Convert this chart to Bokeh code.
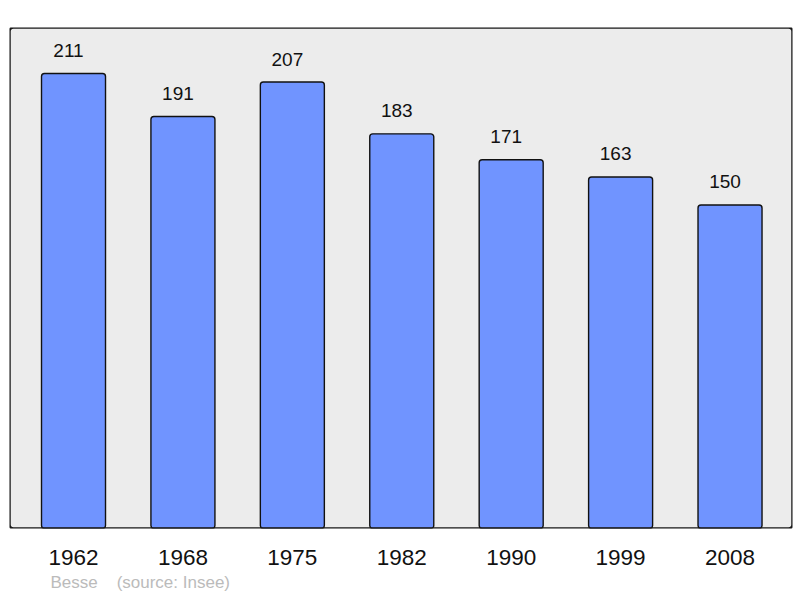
from bokeh.plotting import figure
from bokeh.models import Range1d, ColumnDataSource, FixedTicker, Title, BoxAnnotation
from bokeh.core.properties import value
from bokeh.embed import file_html
from bokeh.resources import INLINE

years = ["1962", "1968", "1975", "1982", "1990", "1999", "2008"]
population = [211, 191, 207, 183, 171, 163, 150]
place = "Besse"
source = "(source: Insee)"

idx = list(range(len(years)))
src = ColumnDataSource(dict(x=idx, top=population, lbl=[str(v) for v in population]))

p = figure(width=800, height=598, output_backend="svg", toolbar_location=None,
           x_range=Range1d(-0.585, 6.571), y_range=Range1d(0, 232.3),
           min_border_left=9, min_border_right=8, min_border_top=27, min_border_bottom=70)
p.background_fill_color = "#ececec"
p.border_fill_color = "white"
p.outline_line_color = None
p.grid.visible = False
p.yaxis.visible = False

p.vbar(x="x", top="top", bottom=0, width=0.585, source=src,
       fill_color="#7094ff", line_color="#111111", line_width=1.4, border_radius=3)
p.text(x="x", y="top", text="lbl", source=src, text_align="center",
       text_baseline="alphabetic", y_offset=-23, x_offset=-5,
       text_font=value("Liberation Sans"),
       text_font_size="19px", text_color="#111111")

frame = BoxAnnotation(fill_color=None, fill_alpha=0, line_color="#1a1a1a", line_alpha=1,
                      line_width=2.5, border_radius=4)
p.add_layout(frame)

ax = p.xaxis[0]
ax.ticker = FixedTicker(ticks=idx)
ax.major_label_overrides = {i: y for i, y in enumerate(years)}
ax.axis_line_color = None
ax.major_tick_line_color = None
ax.minor_tick_line_color = None
ax.major_tick_out = 0
ax.major_tick_in = 0
ax.major_label_standoff = 21
ax.major_label_text_font = "Liberation Sans"
ax.major_label_text_font_size = "22.5px"
ax.major_label_text_color = "#111111"

foot = Title(text=place + "\u00a0" * 4 + source, align="left", offset=41, standoff=7,
             text_font="Liberation Sans", text_font_size="17px",
             text_font_style="normal", text_color="#bbbbbb")
p.add_layout(foot, "below")

open("out.html", "w").write(file_html(p, INLINE))
